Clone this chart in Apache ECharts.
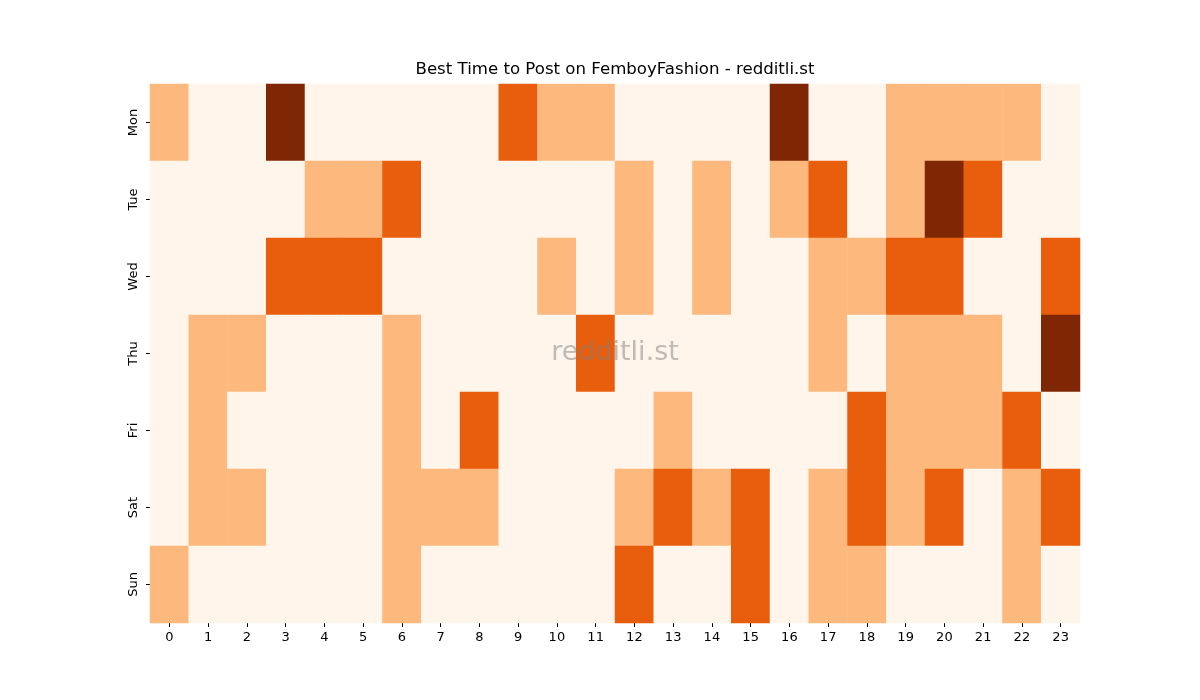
<!DOCTYPE html>
<html>
<head>
<meta charset="utf-8">
<script src="https://cdn.jsdelivr.net/npm/echarts@6/dist/echarts.min.js"></script>
<style>
  html, body { margin: 0; padding: 0; background: #fff; }
  #chart { width: 1200px; height: 700px; }
</style>
</head>
<body>
<div id="chart"></div>
<script>
const hours = ['0','1','2','3','4','5','6','7','8','9','10','11','12','13','14','15','16','17','18','19','20','21','22','23'];
const days = ['Mon','Tue','Wed','Thu','Fri','Sat','Sun'];

// activity level per hour (0 = low .. 3 = best)
const mon = [1,0,0,3,0,0,0,0,0,2,1,1,0,0,0,0,3,0,0,1,1,1,1,0];
const tue = [0,0,0,0,1,1,2,0,0,0,0,0,1,0,1,0,1,2,0,1,3,2,0,0];
const wed = [0,0,0,2,2,2,0,0,0,0,1,0,1,0,1,0,0,1,1,2,2,0,0,2];
const thu = [0,1,1,0,0,0,1,0,0,0,0,2,0,0,0,0,0,1,0,1,1,1,0,3];
const fri = [0,1,0,0,0,0,1,0,2,0,0,0,0,1,0,0,0,0,2,1,1,1,2,0];
const sat = [0,1,1,0,0,0,1,1,1,0,0,0,1,2,1,2,0,1,2,1,2,0,1,2];
const sun = [1,0,0,0,0,0,1,0,0,0,0,0,2,0,0,2,0,1,1,0,0,0,1,0];

const levelColors = ['#fff5eb', '#fdb97d', '#e95e0d', '#7f2704'];

const rows = [mon, tue, wed, thu, fri, sat, sun];
const heatData = [];
rows.forEach((row, d) => {
    row.forEach((v, h) => heatData.push([h, d, v]));
});

const chart = echarts.init(document.getElementById('chart'));
chart.setOption({
    backgroundColor: '#ffffff',
    animation: false,
    textStyle: { fontFamily: 'DejaVu Sans' },
    grid: { left: 150, top: 84, width: 930, height: 539 },
    xAxis: {
        type: 'category', data: hours,
        axisLine: { show: false },
        axisTick: { show: true, alignWithLabel: true, length: 4, lineStyle: { color: '#000' } },
        axisLabel: { color: '#000', fontSize: 13, margin: 8 },
        splitLine: { show: false }
    },
    yAxis: {
        type: 'category', data: days, inverse: true,
        axisLine: { show: false },
        axisTick: { show: true, alignWithLabel: true, length: 4, lineStyle: { color: '#000' } },
        axisLabel: { color: '#000', fontSize: 13, rotate: 90, margin: 10 },
        splitLine: { show: false }
    },
    visualMap: {
        show: false, type: 'piecewise', dimension: 2,
        pieces: levelColors.map((c, i) => ({ value: i, color: c }))
    },
    series: [{
        type: 'heatmap', data: heatData,
        itemStyle: { borderWidth: 0 },
        emphasis: { disabled: true }
    }],
    graphic: [{
        type: 'text', x: 615, y: 70, z: 100,
        style: {
            text: 'Best Time to Post on FemboyFashion - redditli.st',
            align: 'center', verticalAlign: 'middle',
            font: '16.6px "DejaVu Sans"', fill: '#000'
        }
    }, {
        type: 'text', x: 615, y: 353, z: 100,
        style: {
            text: 'redditli.st',
            align: 'center', verticalAlign: 'middle',
            font: '27px "DejaVu Sans"', fill: 'rgba(128,128,128,0.5)'
        }
    }]
});
</script>
</body>
</html>
